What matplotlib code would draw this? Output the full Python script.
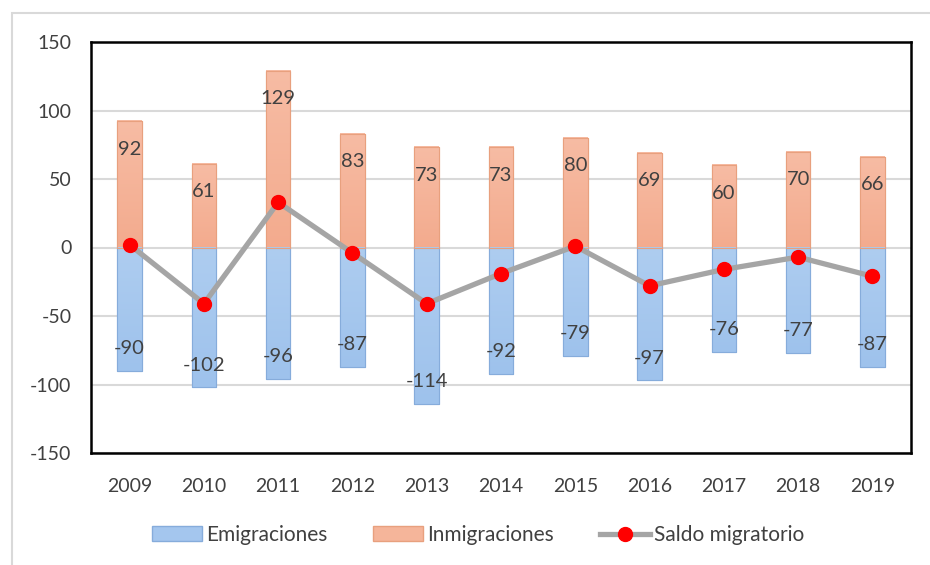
import matplotlib
matplotlib.use("Agg")
import matplotlib.pyplot as plt
import numpy as np
from matplotlib.colors import LinearSegmentedColormap
from matplotlib.lines import Line2D
from matplotlib.patches import Patch, Rectangle

years = ["2009", "2010", "2011", "2012", "2013", "2014", "2015", "2016", "2017", "2018", "2019"]
inmigraciones = [92, 61, 129, 83, 73, 73, 80, 69, 60, 70, 66]
emigraciones = [-90, -102, -96, -87, -114, -92, -79, -97, -76, -77, -87]
saldo = [i + e for i, e in zip(inmigraciones, emigraciones)]

plt.rcParams["font.family"] = ["Lato", "DejaVu Sans"]
plt.rcParams["axes.unicode_minus"] = False
txt = "#404040"

fig = plt.figure(figsize=(9.3, 5.65), dpi=100)
ax = fig.add_axes([91 / 930, 1 - 453 / 565, (911 - 91) / 930, (453 - 42) / 565])

# light outer chart frame
fig.add_artist(Rectangle((12 / 930, -0.05), 1.2, 1 - 13 / 565 + 0.05,
                         transform=fig.transFigure, fill=False,
                         edgecolor="#d9d9d9", linewidth=1.5, zorder=0))

x = np.arange(len(years))
width = 0.33

orange_cmap = LinearSegmentedColormap.from_list("inm", ["#f3ab8e", "#f7bca4"])
blue_cmap = LinearSegmentedColormap.from_list("emi", ["#9ec2ec", "#aecdf0"])

bars_e = ax.bar(x, emigraciones, width, color="#a4c6ee", edgecolor="#86acdb",
                linewidth=0.8, zorder=2, label="Emigraciones")
bars_i = ax.bar(x, inmigraciones, width, color="#f5b59a", edgecolor="#e8a07e",
                linewidth=0.8, zorder=2, label="Inmigraciones")

grad = np.linspace(0, 1, 128).reshape(-1, 1)
for bars, cmap in ((bars_e, blue_cmap), (bars_i, orange_cmap)):
    for r in bars:
        x0, y0, w, h = r.get_x(), r.get_y(), r.get_width(), r.get_height()
        ax.imshow(grad, cmap=cmap, origin="lower", aspect="auto",
                  extent=(x0, x0 + w, min(y0, y0 + h), max(y0, y0 + h)),
                  zorder=2.1, interpolation="bicubic")
        edge = Rectangle((x0, y0), w, h, fill=False,
                         edgecolor=r.get_edgecolor(), linewidth=0.8, zorder=2.2)
        ax.add_patch(edge)

ax.plot(x, saldo, color="#a5a5a5", linewidth=3.8, marker="o", markersize=10,
        markerfacecolor="#ff0000", markeredgecolor="#ff0000", zorder=4,
        label="Saldo migratorio", solid_capstyle="round")

for xi, v in zip(x, inmigraciones):
    ax.annotate(str(v), (xi, v), xytext=(0, -20), textcoords="offset points",
                ha="center", va="center", fontsize=14.5, color=txt, zorder=3)
for xi, v in zip(x, emigraciones):
    ax.annotate(str(v), (xi, v), xytext=(0, 16), textcoords="offset points",
                ha="center", va="center", fontsize=14.5, color=txt, zorder=3)

ax.set_xlim(-0.52, len(years) - 0.48)
ax.set_ylim(-150, 150)
ax.set_yticks(np.arange(-150, 151, 50))
ax.set_xticks(x)
ax.set_xticklabels(years)
ax.yaxis.grid(True, color="#d9d9d9", linewidth=1.5, zorder=0)
ax.set_axisbelow(True)
ax.tick_params(axis="both", length=0, labelsize=14, labelcolor=txt)
ax.tick_params(axis="x", pad=18)
ax.tick_params(axis="y", pad=14)
for s in ax.spines.values():
    s.set_linewidth(1.8)
    s.set_color("black")

handles = [
    Patch(facecolor="#a4c6ee", edgecolor="#86acdb", label="Emigraciones"),
    Patch(facecolor="#f5b59a", edgecolor="#e8a07e", label="Inmigraciones"),
    Line2D([0], [0], color="#a5a5a5", linewidth=3.8, marker="o", markersize=10,
           markerfacecolor="#ff0000", markeredgecolor="#ff0000", label="Saldo migratorio"),
]
leg = fig.legend(handles=handles, loc="center", bbox_to_anchor=(478 / 930, 1 - 535 / 565),
                 ncol=3, frameon=False, fontsize=15, handlelength=2.4, handleheight=0.75,
                 handletextpad=0.2, columnspacing=2.2, labelcolor=txt)

fig.savefig("out.png", dpi=100, facecolor="white")
